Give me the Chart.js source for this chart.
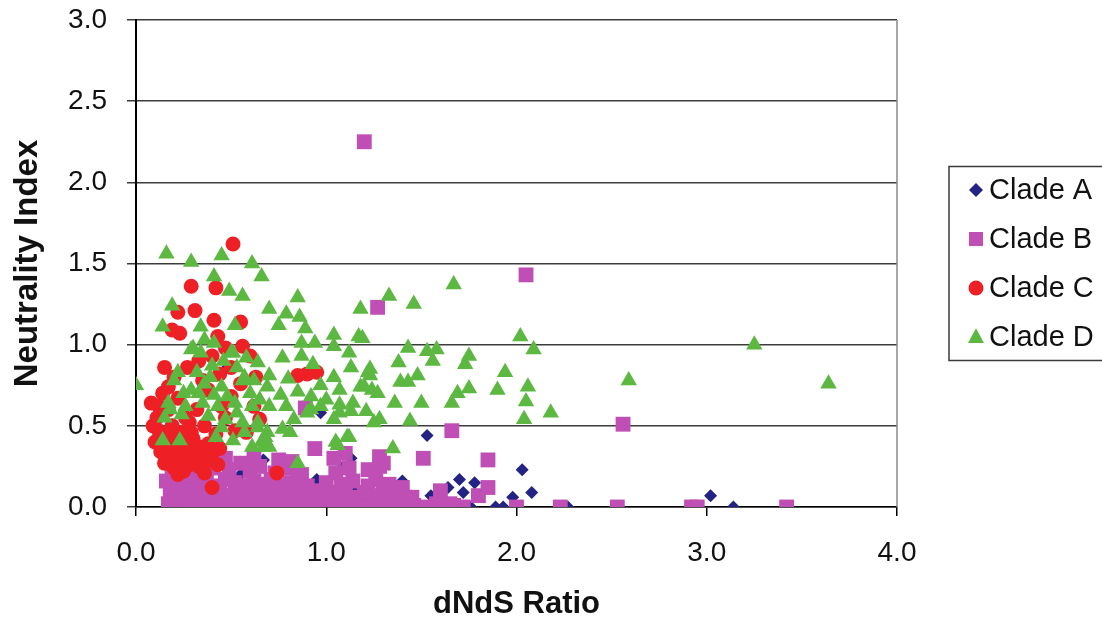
<!DOCTYPE html>
<html>
<head>
<meta charset="utf-8">
<script src="https://cdn.jsdelivr.net/npm/chart.js@4.4.1/dist/chart.umd.min.js"></script>
<style>
  body { margin: 0; background: #fff; }
  #wrap { width: 1102px; height: 622px; }
</style>
</head>
<body>
<div id="wrap"><canvas id="myChart" width="1102" height="622"></canvas></div>
<script>
// dNdS ratio against neutrality index, one list of [dNdS, NI] pairs per clade

let cladeA = [
  [0.97, 0.58], [1.53, 0.44], [2.03, 0.23], [2.08, 0.09], [1.70, 0.17], [1.72, 0.09],
  [1.78, 0.15], [1.98, 0.06], [1.89, 0.00], [1.93, 0.00], [2.27, 0.00], [1.55, 0.01],
  [1.76, 0.00], [1.34, 0.10], [1.55, 0.07], [3.02, 0.07], [3.14, 0.00], [0.67, 0.29],
  [0.95, 0.17], [1.13, 0.30], [1.08, 0.24], [1.15, 0.09], [1.28, 0.01], [0.19, 0.20],
  [0.25, 0.12], [0.40, 0.30], [0.55, 0.20], [0.85, 0.05], [1.20, 0.03], [1.45, 0.02],
  [1.62, 0.03], [0.48, 0.86], [0.60, 0.08], [0.33, 0.05], [0.75, 0.12], [1.40, 0.16],
  [1.64, 0.12]
];

let cladeB = [
  [0.17, 0.02], [0.22, 0.01], [0.27, 0.03], [0.31, 0.00], [0.36, 0.02], [0.41, 0.01],
  [0.45, 0.03], [0.50, 0.00], [0.55, 0.02], [0.60, 0.01], [0.64, 0.03], [0.69, 0.00],
  [0.74, 0.02], [0.79, 0.01], [0.83, 0.03], [0.88, 0.00], [0.93, 0.02], [0.98, 0.01],
  [1.02, 0.00], [1.07, 0.02], [1.12, 0.01], [1.16, 0.03], [1.22, 0.00], [1.27, 0.02],
  [1.32, 0.01], [1.37, 0.00], [1.41, 0.02], [1.46, 0.01], [1.52, 0.00], [1.58, 0.02],
  [1.65, 0.02], [1.67, 0.01], [1.72, 0.00], [2.00, 0.00], [2.23, 0.00], [2.53, 0.00],
  [2.92, 0.00], [2.95, 0.00], [3.42, 0.00],
  [0.18, 0.08], [0.24, 0.10], [0.29, 0.07], [0.34, 0.09], [0.39, 0.08], [0.44, 0.10],
  [0.48, 0.07], [0.53, 0.09], [0.58, 0.10], [0.63, 0.07], [0.68, 0.09], [0.72, 0.08],
  [0.77, 0.10], [0.82, 0.07], [0.86, 0.09], [0.91, 0.08], [0.96, 0.10], [1.01, 0.07],
  [1.05, 0.09], [1.10, 0.08], [1.15, 0.06], [1.20, 0.09], [1.25, 0.07], [1.30, 0.10],
  [1.35, 0.06], [1.41, 0.06], [1.45, 0.06], [1.60, 0.10], [1.80, 0.07],
  [0.16, 0.16], [0.21, 0.14], [0.26, 0.17], [0.32, 0.14], [0.37, 0.16], [0.42, 0.13],
  [0.47, 0.17], [0.52, 0.15], [0.57, 0.13], [0.62, 0.16], [0.66, 0.14], [0.71, 0.17],
  [0.76, 0.13], [0.81, 0.15], [0.85, 0.17], [0.90, 0.13], [1.00, 0.15], [1.08, 0.14],
  [1.14, 0.16], [1.22, 0.13], [1.26, 0.17], [1.33, 0.14], [1.40, 0.12], [1.85, 0.12],
  [0.19, 0.21], [0.30, 0.22], [0.35, 0.26], [0.40, 0.24], [0.44, 0.28], [0.49, 0.23],
  [0.55, 0.27], [0.60, 0.22], [0.65, 0.25], [0.73, 0.21], [0.80, 0.24], [0.87, 0.20],
  [1.05, 0.21], [1.12, 0.24], [1.22, 0.23], [1.28, 0.25], [1.30, 0.27],
  [0.94, 0.36], [0.62, 0.30], [0.47, 0.30], [0.75, 0.29], [0.82, 0.28], [1.04, 0.30],
  [1.10, 0.33], [1.28, 0.31], [1.51, 0.30], [1.85, 0.29], [1.66, 0.47], [0.89, 0.61],
  [2.56, 0.51], [1.27, 1.23], [2.05, 1.43], [1.20, 2.25]
];

let cladeC = [
  [0.51, 1.62], [0.29, 1.36], [0.42, 1.35], [0.31, 1.21], [0.22, 1.20], [0.41, 1.15],
  [0.55, 1.14], [0.19, 1.09], [0.23, 1.07], [0.43, 1.05], [0.56, 0.99], [0.47, 0.98],
  [0.60, 0.93], [0.40, 0.93], [0.15, 0.86], [0.63, 0.80], [0.85, 0.81], [0.90, 0.82],
  [0.95, 0.83], [0.74, 0.21], [0.40, 0.12],
  [0.08, 0.64], [0.10, 0.40], [0.11, 0.55], [0.12, 0.47], [0.13, 0.34], [0.14, 0.70],
  [0.15, 0.27], [0.16, 0.44], [0.17, 0.60], [0.18, 0.33], [0.19, 0.50], [0.20, 0.24],
  [0.21, 0.38], [0.22, 0.67], [0.23, 0.30], [0.24, 0.46], [0.25, 0.22], [0.26, 0.55],
  [0.27, 0.35], [0.28, 0.26], [0.30, 0.42], [0.31, 0.30], [0.32, 0.60], [0.33, 0.25],
  [0.34, 0.37], [0.36, 0.50], [0.37, 0.28], [0.38, 0.72], [0.40, 0.33], [0.42, 0.45],
  [0.44, 0.36], [0.45, 0.62], [0.47, 0.55], [0.50, 0.68], [0.52, 0.47], [0.55, 0.76],
  [0.58, 0.46], [0.62, 0.62], [0.65, 0.54], [0.20, 0.80], [0.27, 0.86], [0.33, 0.90],
  [0.17, 0.74], [0.44, 0.82], [0.50, 0.86], [0.35, 0.78], [0.12, 0.62], [0.09, 0.50],
  [0.22, 0.20], [0.36, 0.21], [0.43, 0.26], [0.28, 0.52], [0.15, 0.38],
  [0.18, 0.42], [0.25, 0.38], [0.31, 0.37], [0.20, 0.30], [0.27, 0.29], [0.33, 0.32],
  [0.38, 0.39], [0.16, 0.32], [0.12, 0.40], [0.29, 0.46]
];

let cladeD = [
  [0.16, 1.56], [0.29, 1.51], [0.45, 1.55], [0.61, 1.50], [0.66, 1.42], [0.41, 1.42],
  [0.49, 1.33], [0.56, 1.30], [0.19, 1.24], [0.14, 1.11], [0.34, 1.11], [0.52, 1.12],
  [0.36, 1.03], [0.41, 1.01], [0.30, 0.98], [0.50, 0.95], [0.64, 0.89], [0.00, 0.75],
  [0.85, 1.29], [0.70, 1.22], [0.79, 1.19], [0.86, 1.17], [0.75, 1.12], [0.89, 1.10],
  [1.18, 1.22], [1.04, 1.06], [1.17, 1.05], [0.87, 1.01], [0.94, 1.01], [1.04, 0.99],
  [0.77, 0.92], [0.87, 0.93], [0.93, 0.88], [1.12, 0.95], [1.13, 0.86], [1.22, 0.83],
  [0.70, 0.81], [0.80, 0.79], [0.97, 0.75], [1.04, 0.80], [1.07, 0.72], [1.18, 0.74],
  [1.24, 0.72], [0.76, 0.69], [0.85, 0.71], [0.92, 0.68], [1.00, 0.66], [1.07, 0.63],
  [1.14, 0.64], [1.21, 0.59], [0.79, 0.62], [0.92, 0.60], [1.07, 0.58], [0.77, 0.48],
  [0.81, 0.46], [1.06, 0.38], [1.12, 0.43], [0.85, 0.27], [0.14, 0.41], [0.23, 0.41],
  [0.68, 0.43], [0.67, 0.37], [1.05, 0.40], [0.66, 0.40],
  [1.33, 1.30], [1.46, 1.25], [1.67, 1.37], [1.19, 1.04], [2.02, 1.05], [2.09, 0.97],
  [1.43, 0.98], [1.53, 0.96], [1.58, 0.97], [1.56, 0.90], [1.75, 0.93], [1.73, 0.88],
  [1.38, 0.89], [1.94, 0.83], [1.48, 0.81], [1.39, 0.77], [1.43, 0.77], [1.23, 0.81],
  [1.75, 0.73], [1.90, 0.72], [2.06, 0.74], [1.69, 0.70], [1.66, 0.64], [1.36, 0.64],
  [1.50, 0.64], [2.05, 0.65], [2.18, 0.58], [1.28, 0.54], [1.44, 0.53], [2.04, 0.54],
  [1.35, 0.36], [1.27, 0.70], [1.20, 0.74], [1.23, 0.85], [2.59, 0.78], [3.25, 1.00],
  [3.64, 0.76],
  [0.20, 0.78], [0.29, 0.72], [0.36, 0.76], [0.45, 0.74], [0.56, 0.78], [0.17, 0.64],
  [0.26, 0.62], [0.35, 0.64], [0.43, 0.62], [0.52, 0.64], [0.61, 0.62], [0.15, 0.55],
  [0.24, 0.57], [0.38, 0.56], [0.47, 0.54], [0.56, 0.52], [0.64, 0.52],
  [0.42, 0.43], [0.51, 0.41], [0.57, 0.46], [0.61, 0.37],
  [0.29, 0.97], [0.34, 0.95], [0.51, 0.95], [0.22, 0.83], [0.32, 0.83], [0.39, 0.80],
  [0.53, 0.86], [0.57, 0.80], [0.62, 0.78], [0.69, 0.74], [0.65, 0.66], [0.70, 0.62],
  [0.64, 0.49], [0.69, 0.46], [0.70, 0.37], [0.83, 0.54], [0.90, 0.58], [0.97, 0.62],
  [1.04, 0.54], [1.13, 0.59], [1.25, 0.52], [1.11, 0.43], [0.18, 0.60],
  [0.25, 0.70], [0.41, 0.69], [0.48, 0.68], [0.33, 0.70], [0.60, 0.70],
  [0.45, 0.49], [0.53, 0.58], [0.40, 0.87], [0.46, 0.90], [0.58, 0.92]
];

let seriesNames = ['Clade A', 'Clade B', 'Clade C', 'Clade D'];
let seriesData = [cladeA, cladeB, cladeC, cladeD];
let xTicks = [0, 1, 2, 3, 4];
let yTicks = [0, 0.5, 1, 1.5, 2, 2.5, 3];

let colors = ['#232383', '#c04fb5', '#ee2026', '#5db842'];
let shapes = ['rectRot', 'rect', 'circle', 'triangle'];
let radii = [6.5, 10.5, 7.5, 9.5];

let fontFamily = "'Liberation Sans', Arial, sans-serif";

// small shape helper for the boxed legend
function drawMarker(ctx, shape, x, y, r) {
  ctx.beginPath();
  if (shape === 'rectRot') {
    ctx.moveTo(x - r, y);
    ctx.lineTo(x, y - r);
    ctx.lineTo(x + r, y);
    ctx.lineTo(x, y + r);
  } else if (shape === 'rect') {
    ctx.rect(x - r, y - r, r * 2, r * 2);
  } else if (shape === 'circle') {
    ctx.arc(x, y, r, 0, Math.PI * 2);
  } else {
    ctx.moveTo(x, y - r * 1.1);
    ctx.lineTo(x + r, y + r * 0.75);
    ctx.lineTo(x - r, y + r * 0.75);
  }
  ctx.closePath();
  ctx.fill();
}

let boxLegend = {
  id: 'boxLegend',
  afterDraw(chart) {
    let ctx = chart.ctx;
    let area = chart.chartArea;
    let left = area.right + 52;
    let mid = (area.top + area.bottom) / 2;
    let step = 49;
    ctx.save();
    ctx.strokeStyle = '#3a3a3a';
    ctx.lineWidth = 1.5;
    ctx.strokeRect(left, mid - 97, 200, 194);
    let legendR = [7, 7, 7.5, 8];
    seriesNames.forEach((name, i) => {
      let y = mid + (i - 1.5) * step;
      ctx.fillStyle = colors[i];
      drawMarker(ctx, shapes[i], left + 27, y, legendR[i]);
      ctx.fillStyle = '#111';
      ctx.font = '29px ' + fontFamily;
      ctx.textAlign = 'left';
      ctx.textBaseline = 'middle';
      ctx.fillText(name, left + 40, y + 1);
    });
    ctx.restore();
  }
};

// grey line closing the plot on the right
let rightEdge = {
  id: 'rightEdge',
  beforeDatasetsDraw(chart) {
    let ctx = chart.ctx;
    let area = chart.chartArea;
    ctx.save();
    ctx.strokeStyle = '#8a8a8a';
    ctx.lineWidth = 1.5;
    ctx.beginPath();
    ctx.moveTo(area.right, area.top);
    ctx.lineTo(area.right, area.bottom);
    ctx.stroke();
    ctx.restore();
  }
};

let datasets = seriesNames.map((name, i) => ({
  label: name,
  data: seriesData[i].map(p => ({ x: p[0], y: p[1] })),
  pointStyle: shapes[i],
  pointRadius: radii[i],
  pointBackgroundColor: colors[i],
  pointBorderWidth: 0,
  order: 4 - i
}));

let ctx = document.getElementById('myChart').getContext('2d');

let myChart = new Chart(ctx, {
  type: 'scatter',
  data: { datasets: datasets },
  plugins: [rightEdge, boxLegend],
  options: {
    responsive: false,
    animation: false,
    events: [],
    layout: { padding: { top: 20, right: 205, bottom: 0, left: 0 } },
    plugins: {
      legend: { display: false },
      tooltip: { enabled: false }
    },
    scales: {
      x: {
        type: 'linear',
        min: 0,
        max: 4,
        afterBuildTicks: s => { s.ticks = xTicks.map(v => ({ value: v })); },
        afterFit: s => { s.height = 115; },
        ticks: {
          callback: v => v.toFixed(1),
          color: '#111',
          padding: 20,
          font: { family: fontFamily, size: 28 }
        },
        grid: {
          drawOnChartArea: false,
          drawTicks: true,
          tickLength: 9,
          color: '#000',
          lineWidth: 1.5
        },
        border: { color: '#000', width: 1.5 },
        title: {
          display: true,
          text: 'dNdS Ratio',
          color: '#111',
          padding: { top: 0, bottom: 0 },
          font: { family: fontFamily, size: 31, weight: 'bold', lineHeight: 1.1 }
        }
      },
      y: {
        type: 'linear',
        min: 0,
        max: 3,
        afterBuildTicks: s => { s.ticks = yTicks.map(v => ({ value: v })); },
        afterFit: s => {
          s.width = 136;
          // keep the plot top set by layout padding only
          s.paddingTop = 0;
          s.paddingBottom = 0;
        },
        ticks: {
          callback: v => v.toFixed(1),
          color: '#111',
          padding: 20,
          font: { family: fontFamily, size: 28 }
        },
        grid: {
          drawTicks: true,
          tickLength: 9,
          color: '#3c3c3c',
          lineWidth: 1.5
        },
        border: { color: '#000', width: 2 },
        title: {
          display: true,
          text: 'Neutrality Index',
          color: '#111',
          padding: { top: 10, bottom: 0 },
          font: { family: fontFamily, size: 33, weight: 'bold', lineHeight: 1.1 }
        }
      }
    }
  }
});
</script>
</body>
</html>
